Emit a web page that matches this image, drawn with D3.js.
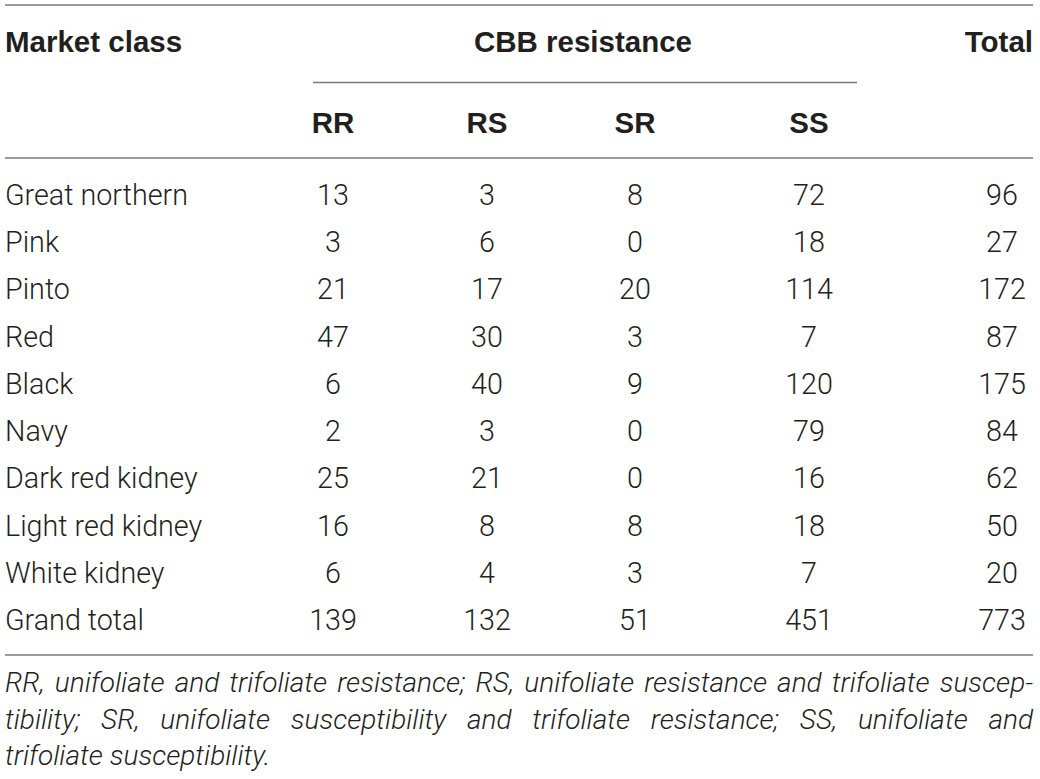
<!DOCTYPE html>
<html>
<head>
<meta charset="utf-8">
<script src="https://cdn.jsdelivr.net/npm/d3@7.9.0/dist/d3.min.js"></script>
<style>
  html, body { margin: 0; padding: 0; background: #fff; }
  svg { display: block; }
</style>
</head>
<body>
<svg id="chart" width="1040" height="779"></svg>
<script>
// table data
const marketClasses = ['Great northern', 'Pink', 'Pinto', 'Red', 'Black', 'Navy',
  'Dark red kidney', 'Light red kidney', 'White kidney', 'Grand total'];
const rr = [13, 3, 21, 47, 6, 2, 25, 16, 6, 139];
const rs = [3, 6, 17, 30, 40, 3, 21, 8, 4, 132];
const sr = [8, 0, 20, 3, 9, 0, 0, 8, 3, 51];
const ss = [72, 18, 114, 7, 120, 79, 16, 18, 7, 451];
const total = [96, 27, 172, 87, 175, 84, 62, 50, 20, 773];
const resistanceClasses = ['RR', 'RS', 'SR', 'SS'];
const footnoteLines = [
  'RR, unifoliate and trifoliate resistance; RS, unifoliate resistance and trifoliate suscep-',
  'tibility; SR, unifoliate susceptibility and trifoliate resistance; SS, unifoliate and',
  'trifoliate susceptibility.'
];

const svg = d3.select('#chart');
const textColor = '#231f20';
const ruleColor = '#7a7a7a';
const bodyFont = 'Roboto, "Liberation Sans", sans-serif';
const headFont = '"Liberation Sans", Arial, sans-serif';
const left = 5, right = 1033;

// rows placed with a point scale (baselines)
const y = d3.scalePoint().domain(marketClasses).range([205, 630]);
// column centres
const x = d3.scaleOrdinal()
  .domain([...resistanceClasses, 'Total'])
  .range([333, 487, 635, 809, 1002]);

const columns = { RR: rr, RS: rs, SR: sr, SS: ss, Total: total };

// rules
const rules = [
  { x1: left, x2: right, y: 5 },
  { x1: 313, x2: 857, y: 82.5 },
  { x1: left, x2: right, y: 158 },
  { x1: left, x2: right, y: 655 }
];
svg.selectAll('line.rule')
  .data(rules)
  .join('line')
  .attr('class', 'rule')
  .attr('x1', (d) => d.x1)
  .attr('x2', (d) => d.x2)
  .attr('y1', (d) => d.y)
  .attr('y2', (d) => d.y)
  .attr('stroke', ruleColor)
  .attr('stroke-width', 1.3);

// header
const head = svg.append('g')
  .attr('font-family', headFont)
  .attr('font-weight', 'bold')
  .attr('font-size', 29.5)
  .attr('fill', textColor);

head.append('text').attr('x', left).attr('y', 52).text('Market class');
head.append('text').attr('x', 583).attr('y', 52)
  .attr('text-anchor', 'middle').text('CBB resistance');
head.append('text').attr('x', right).attr('y', 52)
  .attr('text-anchor', 'end').text('Total');
head.selectAll('text.sub')
  .data(resistanceClasses)
  .join('text')
  .attr('class', 'sub')
  .attr('x', (d) => x(d))
  .attr('y', 133)
  .attr('text-anchor', 'middle')
  .text((d) => d);

// body
const body = svg.append('g')
  .attr('font-family', bodyFont)
  .attr('font-weight', 300)
  .attr('font-size', 28.7)
  .attr('fill', textColor);

body.selectAll('text.label')
  .data(marketClasses)
  .join('text')
  .attr('class', 'label')
  .attr('x', left)
  .attr('y', (d) => y(d))
  .text((d) => d);

Object.entries(columns).forEach(([key, values]) => {
  body.selectAll(`text.col-${key}`)
    .data(values)
    .join('text')
    .attr('class', `col-${key}`)
    .attr('x', x(key))
    .attr('y', (d, i) => y(marketClasses[i]))
    .attr('text-anchor', 'middle')
    .text((d) => d);
});

// footnote, justified by hand
const note = svg.append('g')
  .attr('font-family', bodyFont)
  .attr('font-weight', 300)
  .attr('font-style', 'italic')
  .attr('font-size', 28)
  .attr('fill', textColor);

const noteBase = [692, 728.5, 765];
footnoteLines.forEach((line, li) => {
  const words = line.split(' ');
  const g = note.append('g');
  const nodes = words.map((w) => g.append('text').attr('y', noteBase[li]).text(w));
  const widths = nodes.map((n) => n.node().getComputedTextLength());
  const used = d3.sum(widths);
  const justify = li < footnoteLines.length - 1;
  const gap = justify ? Math.max(3, (right - left - used) / (words.length - 1)) : 7;
  let cx = left;
  nodes.forEach((n, i) => {
    n.attr('x', cx);
    cx += widths[i] + gap;
  });
});
</script>
</body>
</html>
